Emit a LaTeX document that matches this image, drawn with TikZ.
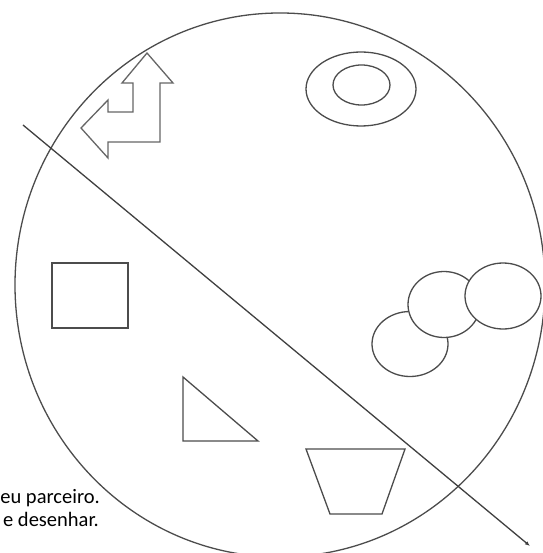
\documentclass[tikz,border=0pt]{standalone}
\usepackage{fontspec}
\setmainfont{Carlito}
\usetikzlibrary{arrows.meta}
\begin{document}
\begin{tikzpicture}[x=1pt,y=-1pt,
  outl/.style={draw=black!70,line width=1.3pt,line join=miter},
  lbl/.style={font=\fontsize{20.5}{23}\selectfont,text=black,inner sep=0pt,anchor=base east}]
\useasboundingbox (0,0) rectangle (542,553);
\fill[white] (0,0) rectangle (542,553);
% big circle
\draw[outl] (280,285) ellipse [x radius=265pt, y radius=272pt];
% bent arrow
\draw[outl,draw=black!60] (147,53) -- (173,83) -- (160,83) -- (160,142) -- (108,142) -- (108,158)
  -- (81,128) -- (108,100) -- (108,112) -- (133,112) -- (133,83) -- (122,83) -- cycle;
% ring
\draw[outl] (361,89) ellipse [x radius=55pt, y radius=37pt];
\draw[outl] (361.5,85) ellipse [x radius=28.5pt, y radius=20pt];
% three circles
\draw[outl,fill=white] (410,344) ellipse [x radius=38pt, y radius=32.5pt];
\draw[outl,fill=white] (444,304.5) ellipse [x radius=36pt, y radius=33pt];
\draw[outl,fill=white] (503,296) ellipse [x radius=38pt, y radius=33pt];
% square
\draw[outl] (52,263) rectangle (128,328);
% triangle
\draw[outl] (183,377) -- (183,441) -- (258,441) -- cycle;
% trapezoid
\draw[outl] (306,449) -- (405,449) -- (382,514) -- (330,514) -- cycle;
% diagonal line
\coordinate (ls) at (23,125);
\coordinate (le) at (530,546);
\draw[outl,draw=black!75,-{Latex[length=5pt,width=4pt]}] (ls) -- (le);
% text
\node[lbl] (t1) at (100,503) {eu parceiro.};
\node[lbl] (t2) at (99,526) {e desenhar.};
\end{tikzpicture}
\end{document}
